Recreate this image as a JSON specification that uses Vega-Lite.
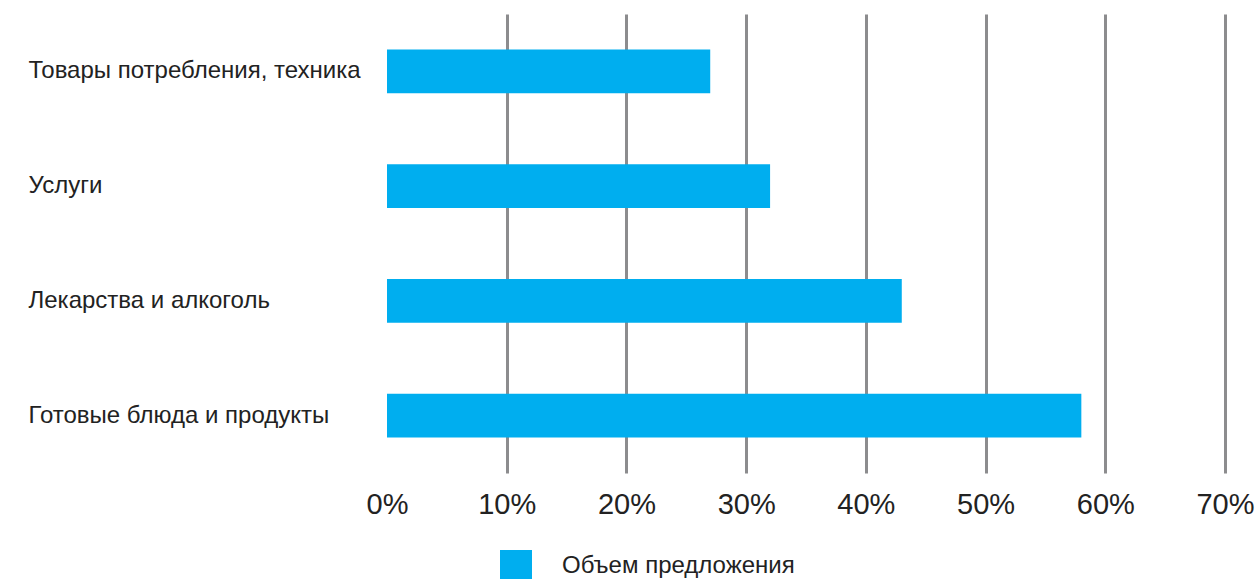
{
  "$schema": "https://vega.github.io/schema/vega-lite/v6.json",
  "width": 838,
  "height": 459,
  "autosize": {"type": "none"},
  "padding": {"left": 387, "top": 14, "right": 33, "bottom": 106},
  "background": "white",
  "config": {
    "view": {"stroke": null},
    "font": "Liberation Sans"
  },
  "data": {
    "values": [
      {"category": "Товары потребления, техника", "value": 27, "series": "Объем предложения"},
      {"category": "Услуги", "value": 32, "series": "Объем предложения"},
      {"category": "Лекарства и алкоголь", "value": 43, "series": "Объем предложения"},
      {"category": "Готовые блюда и продукты", "value": 58, "series": "Объем предложения"}
    ]
  },
  "mark": {"type": "bar"},
  "encoding": {
    "y": {
      "field": "category",
      "type": "nominal",
      "sort": null,
      "scale": {"paddingInner": 0.62, "paddingOuter": 0.31},
      "axis": {
        "title": null,
        "domain": false,
        "ticks": false,
        "labelAlign": "left",
        "labelPadding": 359,
        "labelFontSize": 24,
        "labelColor": "#222222",
        "labelLimit": 400
      }
    },
    "x": {
      "field": "value",
      "type": "quantitative",
      "scale": {"domain": [0, 70], "nice": false},
      "axis": {
        "title": null,
        "values": [0, 10, 20, 30, 40, 50, 60, 70],
        "labelExpr": "datum.value + '%'",
        "domain": false,
        "ticks": false,
        "grid": true,
        "gridColor": {"condition": {"test": "datum.value === 0", "value": "transparent"}, "value": "#8c8c8e"},
        "gridWidth": 3,
        "gridOpacity": 1,
        "labelFontSize": 29,
        "labelColor": "#222222",
        "labelPadding": 17,
        "labelFlush": false
      }
    },
    "color": {
      "field": "series",
      "type": "nominal",
      "scale": {"range": ["#00aeef"]},
      "legend": {
        "title": null,
        "orient": "none",
        "legendX": 113,
        "legendY": 536,
        "symbolType": "square",
        "symbolSize": 1024,
        "symbolStrokeWidth": 0,
        "symbolOpacity": 1,
        "labelFontSize": 24,
        "labelColor": "#222222",
        "labelOffset": 30,
        "labelLimit": 500
      }
    }
  }
}
